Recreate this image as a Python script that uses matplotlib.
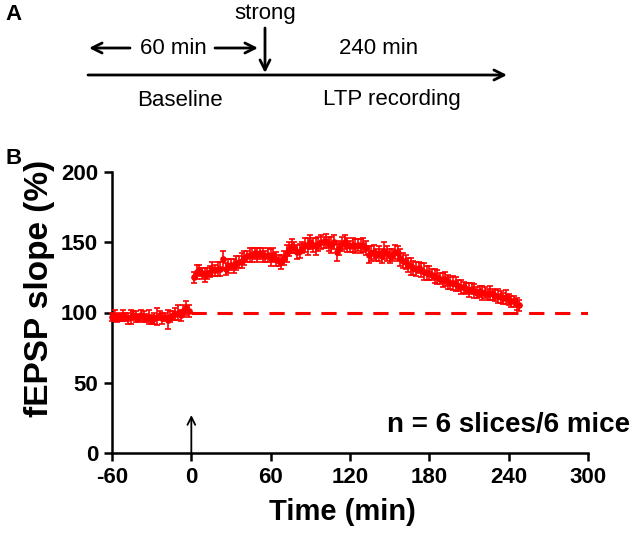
import matplotlib
matplotlib.use("Agg")
import matplotlib.pyplot as plt
import numpy as np

plt.rcParams['font.family'] = ['Liberation Sans', 'DejaVu Sans']
plt.rcParams['axes.unicode_minus'] = False

# baseline, every 2 min before the strong stimulus
base_t = list(range(-60, 0, 2))
base_v = [97, 98, 96, 97, 98, 97, 96, 97, 98, 97,
          96, 98, 97, 96, 97, 95, 96, 97, 98, 96,
          97, 95, 97, 98, 99, 100, 98, 101, 103, 101]
base_e = [3, 4, 3, 3, 4, 3, 4, 5, 3, 4,
          3, 4, 4, 3, 5, 3, 4, 6, 3, 4,
          3, 7, 4, 3, 4, 5, 4, 4, 5, 4]

# LTP recording after the stimulus
ltp_t = list(range(2, 250, 2))
ltp_v = [125, 129, 130, 128, 127, 128, 129, 131, 130, 131,
         131, 138, 131, 133, 134, 133, 135, 136, 137, 139,
         140, 141, 141, 142, 141, 142, 141, 140, 141, 139,
         141, 138, 137, 136, 139, 142, 145, 147, 146, 143,
         144, 146, 148, 147, 150, 148, 147, 149, 150, 150,
         151, 149, 148, 150, 143, 146, 149, 150, 148, 147,
         148, 147, 148, 147, 148, 146, 141, 142, 143, 141,
         142, 140, 144, 142, 140, 141, 143, 142, 139, 137,
         136, 134, 133, 132, 131, 132, 130, 129, 128, 128,
         127, 126, 125, 124, 123, 124, 122, 121, 121, 120,
         119, 118, 118, 117, 116, 117, 115, 114, 115, 114,
         114, 113, 114, 113, 112, 112, 111, 110, 111, 109,
         108, 108, 106, 105]
ltp_e = [4, 5, 4, 4, 5, 4, 4, 5, 4, 5,
         5, 6, 4, 5, 4, 5, 5, 4, 5, 5,
         4, 5, 5, 4, 5, 4, 5, 4, 5, 6,
         5, 5, 4, 5, 5, 6, 5, 5, 4, 5,
         5, 4, 5, 6, 5, 5, 6, 5, 5, 4,
         5, 5, 6, 5, 6, 5, 5, 5, 5, 4,
         5, 5, 4, 5, 5, 5, 6, 5, 5, 4,
         5, 5, 6, 5, 5, 4, 5, 5, 6, 5,
         5, 5, 6, 5, 5, 4, 5, 6, 5, 5,
         4, 5, 5, 4, 5, 5, 5, 4, 5, 5,
         4, 5, 4, 4, 5, 4, 5, 4, 4, 5,
         4, 4, 5, 4, 4, 5, 4, 4, 5, 4,
         4, 4, 4, 4]

xticks = [-60, 0, 60, 120, 180, 240, 300]
yticks = [0, 50, 100, 150, 200]

W, H = 640, 536
fig = plt.figure(figsize=(W / 100, H / 100), dpi=100)

# ---- panel B ----
ax = fig.add_axes([112 / W, (H - 453) / H, (588 - 112) / W, (453 - 172) / H])
ax.errorbar(base_t + ltp_t, base_v + ltp_v, yerr=base_e + ltp_e, fmt='o',
            ms=3.8, color='red', ecolor='red', elinewidth=1.2, capsize=2.5,
            capthick=1.2, clip_on=False, zorder=3)
ax.plot([0, 300], [100, 100], color='red', lw=2.2, dashes=(5, 3.5), zorder=2)
ax.annotate('', xy=(0, 27), xytext=(0, 0),
            arrowprops=dict(arrowstyle='->', color='black', lw=1.3,
                            mutation_scale=14, shrinkA=0, shrinkB=0))

ax.set_xlim(-60, 300)
ax.set_ylim(0, 200)
ax.set_xticks(xticks)
ax.set_yticks(yticks)
ax.spines['top'].set_visible(False)
ax.spines['right'].set_visible(False)
for s in ['left', 'bottom']:
    ax.spines[s].set_linewidth(1.8)
ax.tick_params(width=1.8, length=6, labelsize=16, pad=4)
for lab in ax.get_xticklabels() + ax.get_yticklabels():
    lab.set_fontweight('bold')

fig.text(630 / W, 1 - 425 / H, 'n = 6 slices/6 mice', ha='right', va='center',
         fontsize=20, fontweight='bold')
fig.text(342 / W, 1 - 512 / H, 'Time (min)', ha='center', va='center',
         fontsize=21, fontweight='bold')
fig.text(40 / W, 1 - 288 / H, 'fEPSP slope (%)', ha='center', va='center',
         rotation=90, fontsize=24, fontweight='bold')

# ---- panel A (schematic), in pixel coordinates ----
ov = fig.add_axes([0, 0, 1, 1], facecolor='none')
ov.set_xlim(0, W)
ov.set_ylim(H, 0)
ov.axis('off')

arr = dict(arrowstyle='->', color='black', lw=2, mutation_scale=18,
           shrinkA=0, shrinkB=0)
ov.annotate('', xy=(507, 75), xytext=(88, 75), arrowprops=arr)
ov.annotate('', xy=(265, 73), xytext=(265, 28), arrowprops=arr)
ov.annotate('', xy=(89, 48), xytext=(130, 48), arrowprops=arr)
ov.annotate('', xy=(258, 48), xytext=(215, 48), arrowprops=arr)

ov.text(265, 14, 'strong', ha='center', va='center', fontsize=16)
ov.text(173, 48, '60 min', ha='center', va='center', fontsize=16)
ov.text(379, 48, '240 min', ha='center', va='center', fontsize=16)
ov.text(180, 100, 'Baseline', ha='center', va='center', fontsize=16)
ov.text(392, 100, 'LTP recording', ha='center', va='center', fontsize=16)
ov.text(14, 15, 'A', ha='center', va='center', fontsize=16, fontweight='bold')
ov.text(14, 158, 'B', ha='center', va='center', fontsize=16, fontweight='bold')

fig.savefig('out.png', dpi=100)
